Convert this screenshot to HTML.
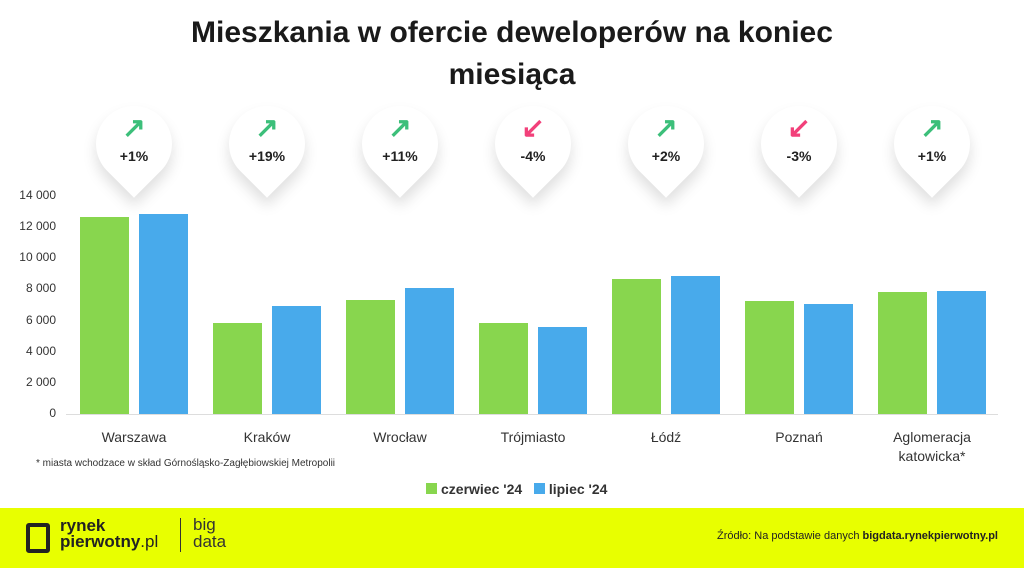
<!DOCTYPE html>
<html><head><meta charset="utf-8"><style>
body{margin:0;width:1024px;height:568px;background:#fff;font-family:"Liberation Sans",sans-serif;position:relative;overflow:hidden}
.t{position:absolute;left:0;width:1024px;text-align:center;font-weight:bold;font-size:30px;color:#1a1a1a;line-height:42px}
.pin{position:absolute;width:76px;height:76px;background:#fff;border-radius:50% 50% 0 50%;transform:rotate(45deg);box-shadow:6px 6px 14px rgba(0,0,0,.13)}
.pl{position:absolute;width:80px;text-align:center;font-weight:bold;font-size:14px;color:#222}
.ar{position:absolute;font-size:28px;font-weight:bold;width:80px;text-align:center;line-height:28px}
.yl{position:absolute;left:0;width:56px;text-align:right;font-size:12px;color:#333}
.b{position:absolute;width:49px}
.g{background:#88d64e}.bl{background:#48aaeb}
.xl{position:absolute;width:130px;text-align:center;font-size:14px;color:#333;line-height:19px}
</style></head><body>
<div class="t" style="top:12px">Mieszkania w ofercie deweloperów na koniec<br>miesiąca</div>
<div id="c"></div>
<div style="position:absolute;left:66px;top:414px;width:932px;height:1px;background:#ddd"></div>
<div style="position:absolute;left:36px;top:458px;font-size:10px;color:#333">* miasta wchodzace w skład Górnośląsko-Zagłębiowskiej Metropolii</div>
<div style="position:absolute;left:426px;top:481px;font-size:14px;font-weight:bold;color:#333"><span style="display:inline-block;width:11px;height:11px;background:#88d64e;margin-right:4px"></span>czerwiec '24 &nbsp;&nbsp;<span style="display:inline-block;width:11px;height:11px;background:#48aaeb;margin-right:4px"></span>lipiec '24</div>
<div style="position:absolute;left:0;top:508px;width:1024px;height:60px;background:#e8ff00"></div>
<div style="position:absolute;left:26px;top:523px;width:16px;height:22px;border:4px solid #222;border-radius:3px"></div>
<div style="position:absolute;left:60px;top:518px;font-size:17px;font-weight:bold;line-height:16px;color:#222">rynek<br>pierwotny<span style="font-weight:normal">.pl</span></div>
<div style="position:absolute;left:180px;top:518px;width:1px;height:34px;background:#333"></div>
<div style="position:absolute;left:193px;top:516px;font-size:17px;line-height:17px;color:#333">big<br>data</div>
<div style="position:absolute;right:26px;top:530px;font-size:11px;color:#222">Źródło: Na podstawie danych <b>bigdata.rynekpierwotny.pl</b></div>
<script>
var h='';
[14000,12000,10000,8000,6000,4000,2000,0].forEach(function(v){var y=414-v*0.01557;h+='<div class="yl" style="top:'+(y-8)+'px">'+(v?String(v).replace(/(\d+)(\d{3})$/,'$1 $2'):'0')+'</div>';});
var d=[["Warszawa",12650,12850,"+1%",1],["Kraków",5840,6940,"+19%",1],["Wrocław",7320,8090,"+11%",1],["Trójmiasto",5840,5590,"-4%",0],["Łódź",8650,8840,"+2%",1],["Poznań",7250,7060,"-3%",0],["Aglomeracja<br>katowicka*",7830,7900,"+1%",1]];
d.forEach(function(r,i){var c=134+i*133;
h+='<div class="b g" style="left:'+(c-54)+'px;top:'+(414-r[1]*0.01557)+'px;height:'+(r[1]*0.01557)+'px"></div>';
h+='<div class="b bl" style="left:'+(c+5)+'px;top:'+(414-r[2]*0.01557)+'px;height:'+(r[2]*0.01557)+'px"></div>';
h+='<div class="xl" style="left:'+(c-65)+'px;top:428px">'+r[0]+'</div>';
h+='<div class="pin" style="left:'+(c-38)+'px;top:106px"></div>';
h+='<div class="ar" style="left:'+(c-40)+'px;top:114px;color:'+(r[4]?'#3cbf7a':'#f2407a')+'">'+(r[4]?'↗':'↙')+'</div>';
h+='<div class="pl" style="left:'+(c-40)+'px;top:148px">'+r[3]+'</div>';});
document.getElementById('c').innerHTML=h;
</script>
</body></html>
